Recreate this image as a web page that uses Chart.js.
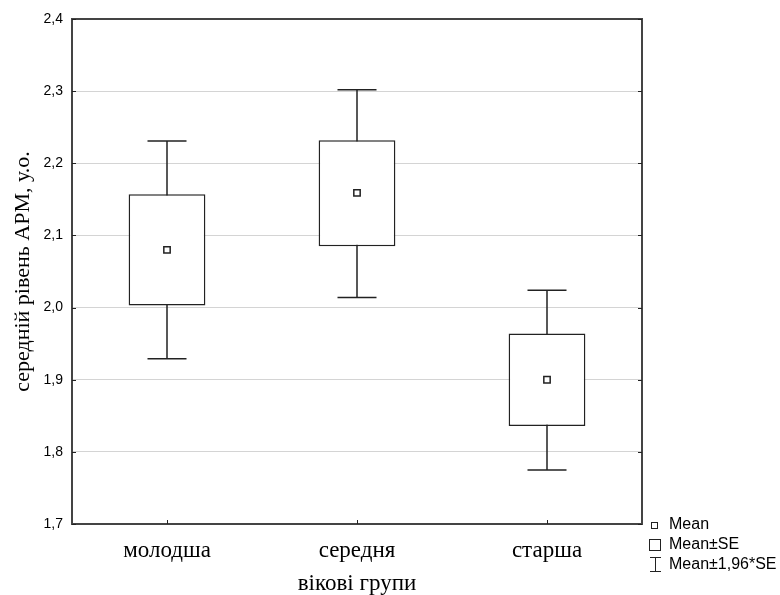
<!DOCTYPE html>
<html>
<head>
<meta charset="utf-8">
<script src="https://cdn.jsdelivr.net/npm/chart.js@4"></script>
<style>
  body { margin: 0; background: #fff; }
</style>
</head>
<body>
<canvas id="myChart" width="780" height="595"></canvas>
<script>
// groups and values
const groups = ['молодша', 'середня', 'старша'];
const means = [2.080, 2.159, 1.900];
const seLow = [2.003, 2.085, 1.836];
const seHigh = [2.157, 2.232, 1.964];
const ciLow = [1.929, 2.014, 1.775];
const ciHigh = [2.231, 2.302, 2.024];
const yTicks = [1.7, 1.8, 1.9, 2.0, 2.1, 2.2, 2.3, 2.4];

const boxes = groups.map((g, i) => [seLow[i], seHigh[i]]);

// whiskers (mean +- 1.96*SE), drawn under the boxes
const whiskers = {
    id: 'whiskers',
    beforeDatasetsDraw(chart) {
        const c = chart.ctx;
        const x = chart.scales.x, y = chart.scales.y;
        c.save();
        c.strokeStyle = '#222';
        c.lineWidth = 1.5;
        groups.forEach((g, i) => {
            const px = x.getPixelForValue(i);
            const half = 19.5;
            c.beginPath();
            c.moveTo(px, y.getPixelForValue(ciLow[i]));
            c.lineTo(px, y.getPixelForValue(ciHigh[i]));
            c.moveTo(px - half, y.getPixelForValue(ciHigh[i]));
            c.lineTo(px + half, y.getPixelForValue(ciHigh[i]));
            c.moveTo(px - half, y.getPixelForValue(ciLow[i]));
            c.lineTo(px + half, y.getPixelForValue(ciLow[i]));
            c.stroke();
        });
        c.restore();
    },
    afterDraw(chart) {
        const c = chart.ctx;
        const a = chart.chartArea;
        c.save();
        // frame
        c.strokeStyle = '#444';
        c.lineWidth = 2;
        c.strokeRect(a.left, a.top, a.right - a.left, a.bottom - a.top);
        // inward ticks on all sides
        c.strokeStyle = '#222';
        c.lineWidth = 1;
        c.beginPath();
        yTicks.forEach(v => {
            const py = Math.round(chart.scales.y.getPixelForValue(v)) + 0.5;
            c.moveTo(a.left, py); c.lineTo(a.left + 4, py);
            c.moveTo(a.right, py); c.lineTo(a.right - 4, py);
        });
        groups.forEach((g, i) => {
            const px = Math.round(chart.scales.x.getPixelForValue(i)) + 0.5;
            c.moveTo(px, a.bottom); c.lineTo(px, a.bottom - 4);
        });
        c.stroke();
        // legend
        c.strokeStyle = '#222';
        c.fillStyle = '#000';
        c.font = '16px "Liberation Sans", Arial, sans-serif';
        c.textBaseline = 'middle';
        c.lineWidth = 1;
        c.strokeRect(651.5, 522.5, 6, 6);
        c.fillText('Mean', 669, 525);
        c.strokeRect(649.5, 539.5, 11, 11);
        c.fillText('Mean±SE', 669, 545);
        c.beginPath();
        c.moveTo(655.5, 557); c.lineTo(655.5, 571);
        c.moveTo(650, 557.5); c.lineTo(661, 557.5);
        c.moveTo(650, 571.5); c.lineTo(661, 571.5);
        c.stroke();
        c.fillText('Mean±1,96*SE', 669, 565);
        c.restore();
    }
};

const ctx = document.getElementById('myChart').getContext('2d');

const myChart = new Chart(ctx, {
    type: 'bar',
    data: {
        labels: groups,
        datasets: [{
            label: 'Mean±SE',
            data: boxes,
            backgroundColor: '#fff',
            borderColor: '#222',
            borderWidth: 1.5,
            borderSkipped: false,
            barPercentage: 0.404,
            categoryPercentage: 1,
            order: 2
        }, {
            type: 'line',
            label: 'Mean',
            data: means,
            showLine: false,
            pointStyle: 'rect',
            pointRadius: 4.5,
            pointBackgroundColor: '#fff',
            pointBorderColor: '#222',
            pointBorderWidth: 1.5,
            order: 1
        }]
    },
    options: {
        responsive: false,
        animation: false,
        layout: { padding: { top: 19, right: 138, left: 0, bottom: 0 } },
        plugins: {
            legend: { display: false },
            tooltip: { enabled: false }
        },
        scales: {
            x: {
                grid: { display: false },
                border: { display: false },
                ticks: {
                    color: '#000',
                    padding: 5,
                    font: { family: '"Liberation Serif", "Times New Roman", serif', size: 23 }
                },
                title: {
                    display: true,
                    text: 'вікові групи',
                    color: '#000',
                    padding: { top: 0, bottom: -3 },
                    font: { family: '"Liberation Serif", "Times New Roman", serif', size: 23 }
                },
                afterFit(s) { s.height = 71; }
            },
            y: {
                min: 1.7,
                max: 2.4,
                afterBuildTicks(s) { s.ticks = yTicks.map(v => ({ value: v })); },
                grid: { color: '#d4d4d4', borderDash: [1, 2], drawTicks: false },
                border: { display: false },
                ticks: {
                    color: '#000',
                    padding: 9,
                    font: { family: '"Liberation Sans", Arial, sans-serif', size: 14 },
                    callback: v => Number(v).toFixed(1).replace('.', ',')
                },
                title: {
                    display: true,
                    text: 'середній рівень АРМ, у.о.',
                    color: '#000',
                    padding: { top: 10, bottom: 4 },
                    font: { family: '"Liberation Serif", "Times New Roman", serif', size: 22 }
                },
                afterFit(s) { s.width = 72; }
            }
        }
    },
    plugins: [whiskers]
});
</script>
</body>
</html>
